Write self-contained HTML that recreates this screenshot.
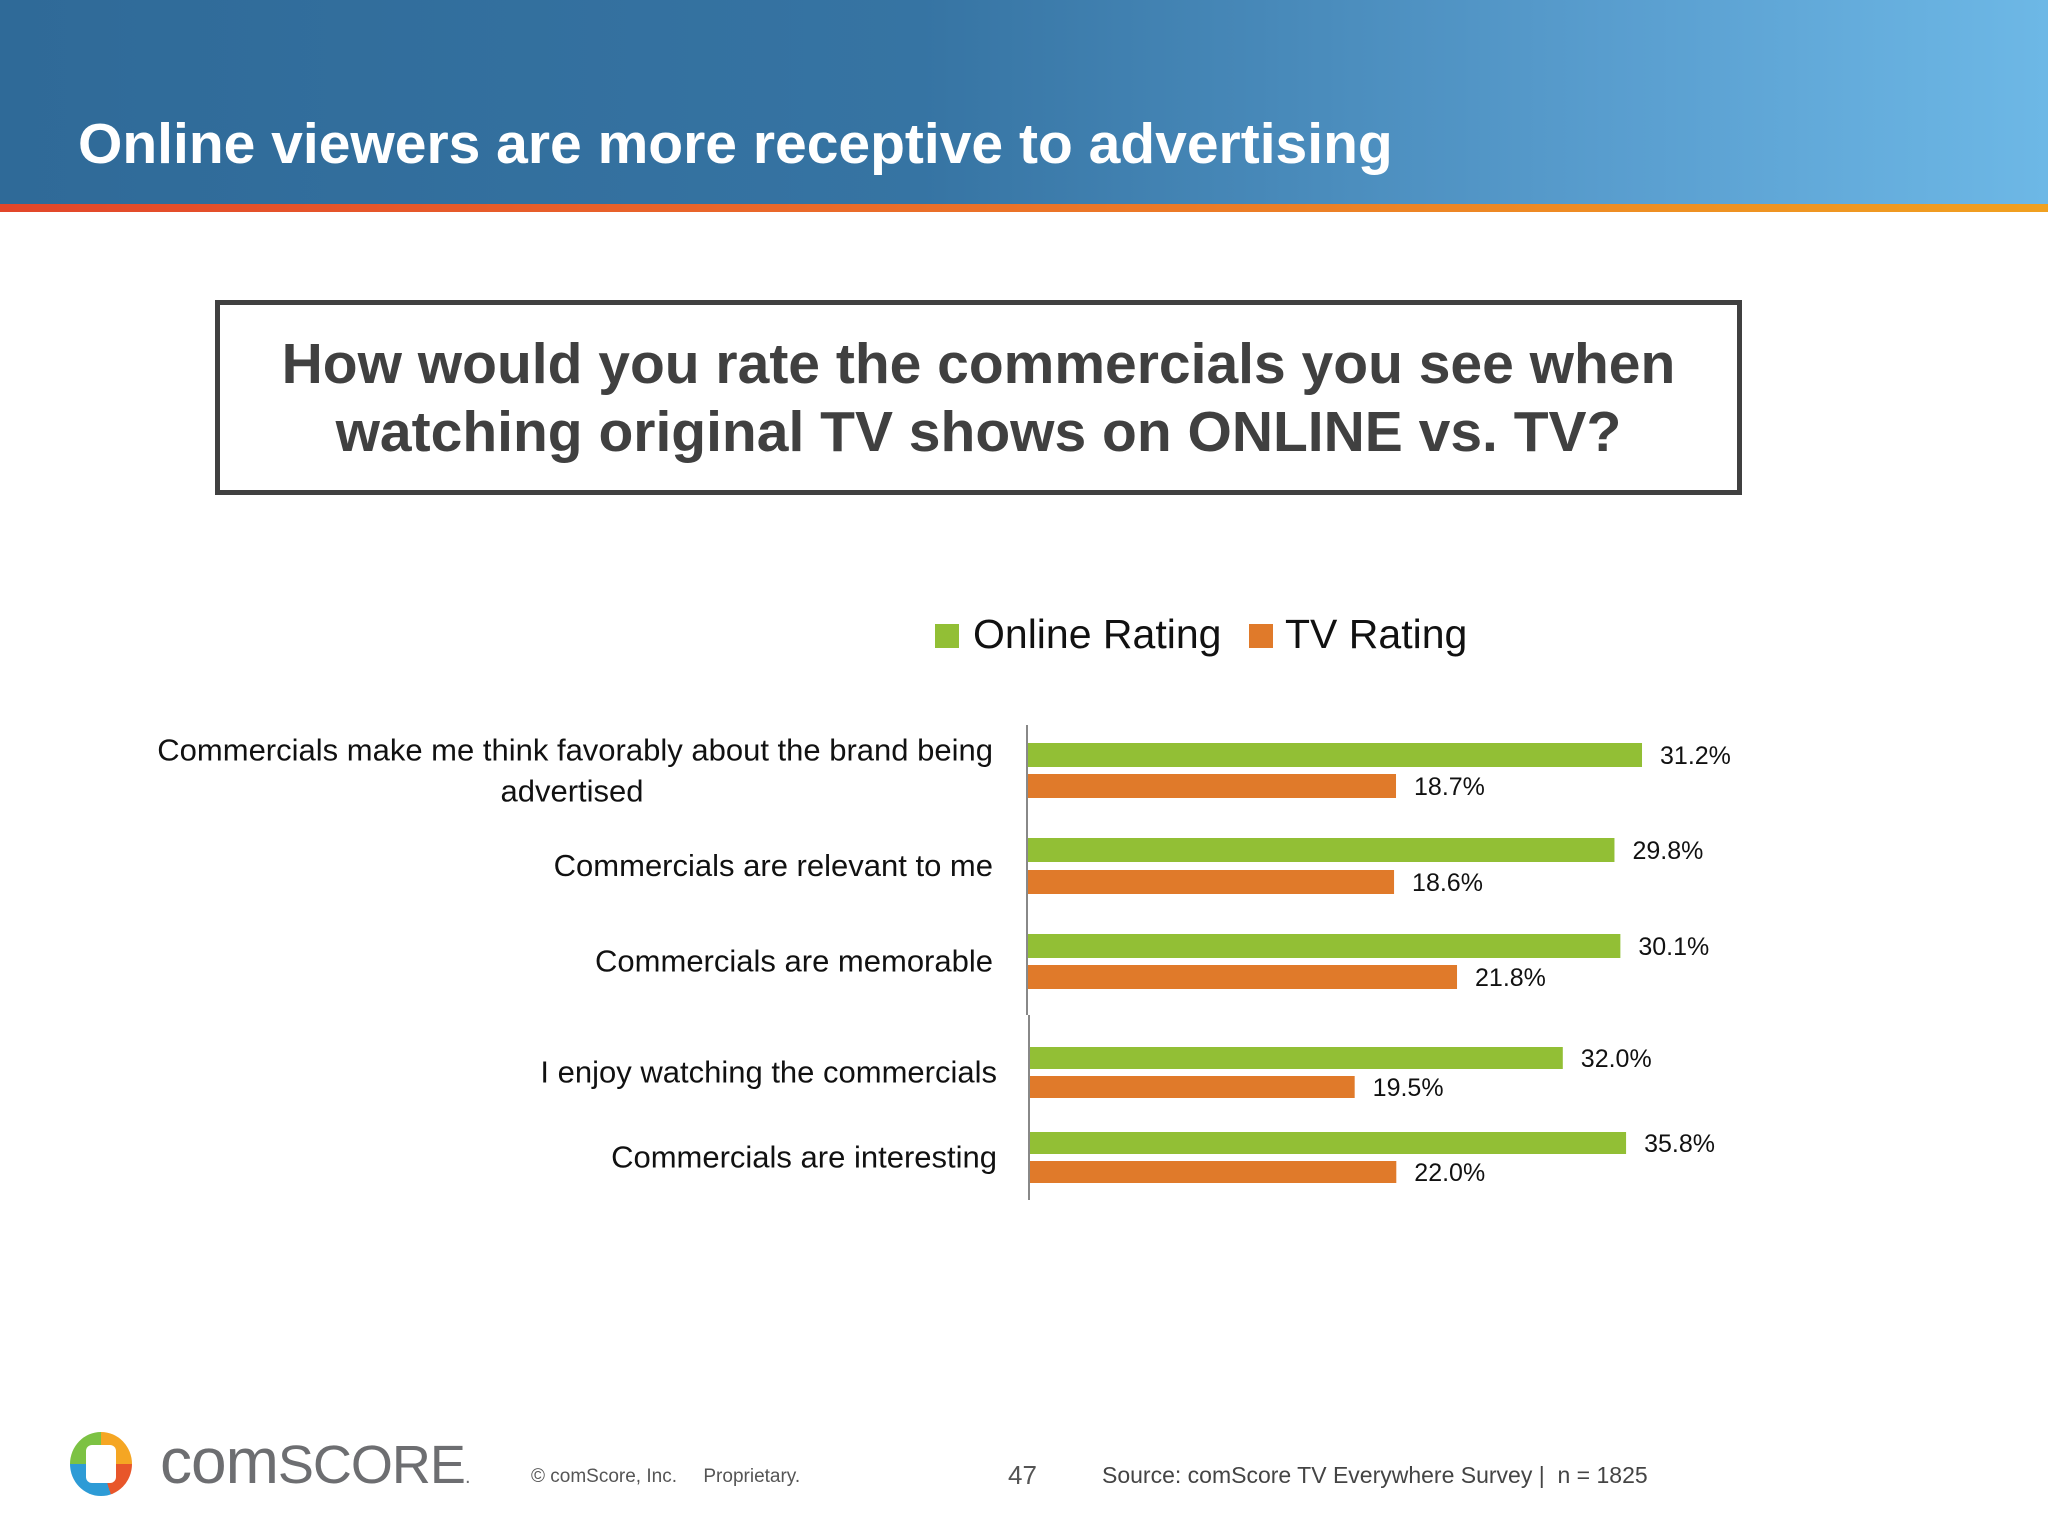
<!DOCTYPE html>
<html><head><meta charset="utf-8"><style>
body{margin:0;width:2048px;height:1536px;background:#fff;position:relative;overflow:hidden;font-family:"Liberation Sans",sans-serif}
.abs{position:absolute}
</style></head><body>
<div class="abs" style="left:0;top:0;width:2048px;height:205px;background:linear-gradient(90deg,#2f6a98 0%,#3674a3 45%,#5a9fd0 80%,#6db8e6 100%)"></div>
<div class="abs" style="left:0;top:204px;width:2048px;height:8px;background:linear-gradient(90deg,#e2462a 0%,#ea6a2a 40%,#f0a020 100%)"></div>
<div class="abs" style="left:78px;top:111px;color:#fff;font-weight:bold;font-size:57px;white-space:nowrap">Online viewers are more receptive to advertising</div>
<div class="abs" style="left:215px;top:300px;width:1517px;height:185px;border:5px solid #404040;color:#404040;font-weight:bold;font-size:57px;text-align:center;line-height:68px;display:flex;align-items:center;justify-content:center">How would you rate the commercials you see when<br>watching original TV shows on ONLINE vs. TV?</div>
<svg class="abs" style="left:0;top:0" width="2048" height="1536" id="chart" font-family="'Liberation Sans',sans-serif">
<rect x="935" y="624" width="24" height="24" fill="#92bf35"/>
<text x="973" y="648" font-size="41" fill="#111">Online Rating</text>
<rect x="1249" y="624" width="24" height="24" fill="#e07a2a"/>
<text x="1285" y="648" font-size="41" fill="#111">TV Rating</text>
<line x1="1027" y1="725" x2="1027" y2="1015" stroke="#888" stroke-width="2"/>
<line x1="1029" y1="1015" x2="1029" y2="1200" stroke="#888" stroke-width="2"/>
</svg>
<div class="abs" style="left:70px;top:1432px;width:62px;height:64px;border-radius:50%;background:conic-gradient(#f5a623 0 25%,#e8562a 25% 45%,#2d9bd6 45% 75%,#7cc243 75% 100%)"><div style="position:absolute;left:16px;top:13px;width:30px;height:38px;background:#fff;border-radius:6px"></div></div>
<div class="abs" style="left:160px;top:1424px;font-size:64px;color:#6d6e71;font-family:'Liberation Sans',sans-serif;letter-spacing:-1px">com<span style="font-size:54px">SCORE</span><span style="font-size:20px">.</span></div>
<div class="abs" style="left:531px;top:1466px;font-size:19px;color:#555">© comScore, Inc. &nbsp;&nbsp;&nbsp; Proprietary.</div>
<div class="abs" style="left:1008px;top:1460px;font-size:26px;color:#555">47</div>
<div class="abs" style="left:1102px;top:1462px;font-size:23px;color:#444">Source: comScore TV Everywhere Survey | &nbsp;n = 1825</div>
<script>
const categories=["Commercials make me think favorably about the brand being|advertised","Commercials are relevant to me","Commercials are memorable","I enjoy watching the commercials","Commercials are interesting"];
const onlineValues=[31.2,29.8,30.1,32.0,35.8];
const tvValues=[18.7,18.6,21.8,19.5,22.0];
const NS="http://www.w3.org/2000/svg",svg=document.getElementById('chart');
const groupTop=[743,838,934,1047,1132],barH=[24,24,24,22,22],gap=[31,32,31,29,29];
function xScale(v,i){return i<3?v*19.68:v*16.65;}
function x0(i){return i<3?1028:1030;}
function mk(t,a){const e=document.createElementNS(NS,t);for(const k in a)e.setAttribute(k,a[k]);svg.appendChild(e);return e;}
categories.forEach((c,i)=>{
 const yG=groupTop[i],yT=yG+gap[i],h=barH[i];
 const g=mk('rect',{x:x0(i),y:yG,width:xScale(onlineValues[i],i),height:h,fill:'#92bf35'});
 
 
 const o=mk('rect',{x:x0(i),y:yT,width:xScale(tvValues[i],i),height:h,fill:'#e07a2a'});
 
 
 const lg=mk('text',{x:x0(i)+xScale(onlineValues[i],i)+18,y:yG+h/2+9,'font-size':25,fill:'#111'});
 lg.textContent=onlineValues[i].toFixed(1)+'%';
 
 
 const lt=mk('text',{x:x0(i)+xScale(tvValues[i],i)+18,y:yT+h/2+9,'font-size':25,fill:'#111'});
 lt.textContent=tvValues[i].toFixed(1)+'%';
 
 
 const parts=c.split('|');
 parts.forEach((p,j)=>{
  const cy=(yG+yT+h)/2+10-(parts.length-1)*20+j*41;
  const t=mk('text',{x:parts.length>1&&j==1?572:(i<3?993:997),y:cy,'font-size':31,fill:'#111','text-anchor':parts.length>1&&j==1?'middle':'end'});
  t.textContent=p;
  
  
 });
});
</script>
</body></html>
